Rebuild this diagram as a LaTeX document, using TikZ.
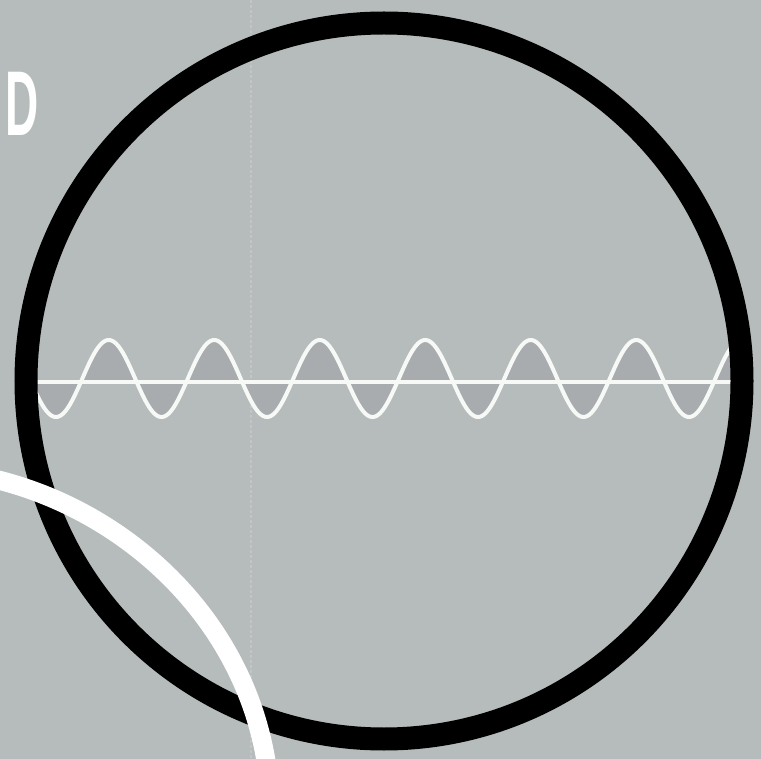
\documentclass[tikz,border=0pt]{standalone}
\usepackage{fontspec}
\setmainfont{Liberation Sans}
\definecolor{bggray}{RGB}{182,188,188}
\definecolor{wavefill}{RGB}{168,172,174}
\definecolor{chalk}{RGB}{246,249,246}
\definecolor{scanline}{RGB}{198,196,196}
\tikzset{
  ring/.style={draw=black,line width=23pt},
  axisline/.style={draw=chalk,line width=4.5pt},
  waveline/.style={draw=chalk,line width=4pt,line join=round},
  bigarc/.style={draw=white,line width=19pt},
  label/.style={text=white,font=\bfseries\fontsize{92}{92}\selectfont,inner sep=0pt,anchor=base west}
}
\begin{document}
\begin{tikzpicture}[x=1pt,y=-1pt]
\useasboundingbox (0,0) rectangle (761,759);
\fill[bggray] (0,0) rectangle (761,759);
% faint scan line
\draw[scanline,line width=1.6pt,dash pattern=on 3pt off 2pt] (251,0) -- (251,759);
% shaded area between wave and axis
\fill[wavefill] plot[domain=33:735,samples=400,smooth] ({\x},{378.5+38.5*cos(3.41232*(\x-56))}) -- (735,382) -- (33,382) -- cycle;
% axis line
\coordinate (axL) at (33,382);
\coordinate (axR) at (735,382);
\draw[axisline] (axL) -- (axR);
% sine wave
\draw[waveline] plot[domain=33:735,samples=400,smooth] ({\x},{378.5+38.5*cos(3.41232*(\x-56))});
% black circle
\coordinate (ctr) at (384,381);
\draw[ring] (ctr) circle[radius=358pt];
% white arc
\coordinate (arcA) at (-10,478);
\coordinate (arcB) at (268,775);
\draw[bigarc] (arcA) .. controls (130,510) and (250,625) .. (arcB);
% label
\node[label] (lbl) at (5,136) {\scalebox{0.5}[1]{D}};
\end{tikzpicture}
\end{document}
